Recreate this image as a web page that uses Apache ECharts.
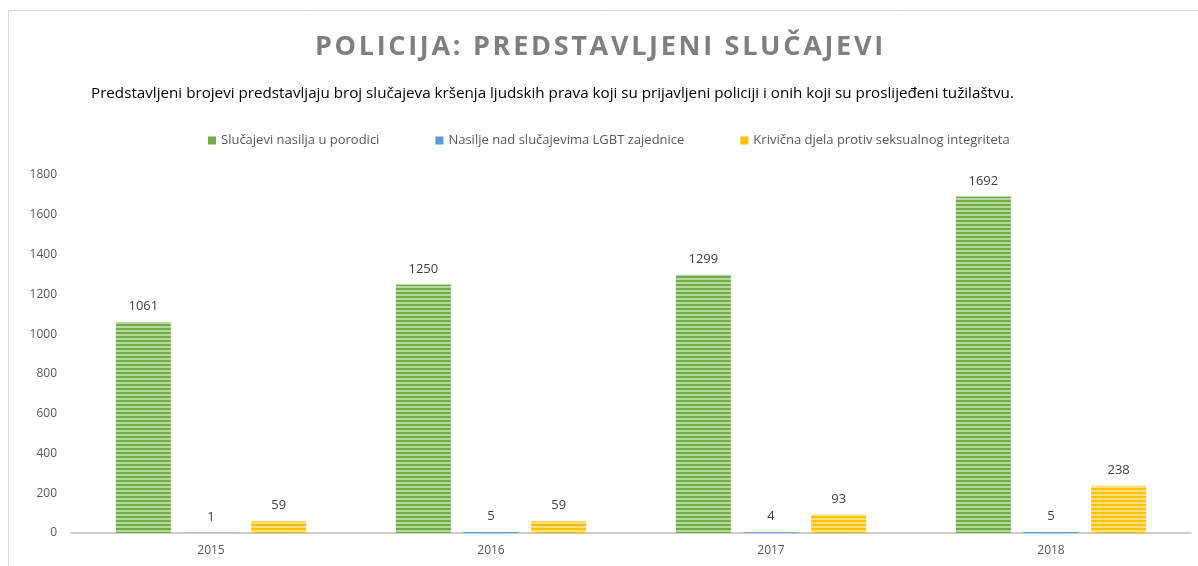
<!DOCTYPE html>
<html>
<head>
<meta charset="utf-8">
<script src="https://cdn.jsdelivr.net/npm/echarts@6/dist/echarts.min.js"></script>
<style>
html, body { margin: 0; padding: 0; background: #fff; }
#chart { width: 1198px; height: 566px; }
</style>
</head>
<body>
<div id="chart"></div>
<script>
var years = ['2015', '2016', '2017', '2018'];
var seriesNames = ['Slučajevi nasilja u porodici', 'Nasilje nad slučajevima LGBT zajednice', 'Krivična djela protiv seksualnog integriteta'];
var nasilje = [1061, 1250, 1299, 1692];
var lgbt = [1, 5, 4, 5];
var krivicna = [59, 59, 93, 238];
var titleText = 'POLICIJA: PREDSTAVLJENI SLUČAJEVI';

// striped fill like the original
function stripes(dark, light) {
	var c = document.createElement('canvas');
	c.width = 4;
	c.height = 4;
	var ctx = c.getContext('2d');
	ctx.fillStyle = light;
	ctx.fillRect(0, 0, 4, 4);
	ctx.fillStyle = dark;
	ctx.fillRect(0, 0, 4, 2);
	return { image: c, repeat: 'repeat' };
}

var chart = echarts.init(document.getElementById('chart'));
var labelStyle = { show: true, position: 'top', distance: 9, color: '#404040', fontSize: 13, fontFamily: 'Open Sans' };

var option = {
	animation: false,
	textStyle: { fontFamily: 'Open Sans' },
	title: [{
		// spaced-out letters
		text: titleText.split('').join('\u200A'),
		left: 'center',
		top: 29,
		textStyle: { fontSize: 27, fontWeight: 'bold', color: '#7f7f7f', fontFamily: 'Open Sans' }
	}, {
		text: 'Predstavljeni brojevi predstavljaju broj slučajeva kršenja ljudskih prava koji su prijavljeni policiji i onih koji su proslijeđeni tužilaštvu.',
		left: 86,
		top: 81,
		textStyle: { fontSize: 15.2, fontWeight: 'normal', color: '#000', fontFamily: 'Open Sans' }
	}],
	legend: {
		data: [
			{ name: seriesNames[0], itemStyle: { color: '#70AD47' } },
			{ name: seriesNames[1], itemStyle: { color: '#5B9BD5' } },
			{ name: seriesNames[2], itemStyle: { color: '#FFC000' } }
		],
		top: 129,
		left: 203,
		itemWidth: 8,
		itemHeight: 8,
		itemGap: 56,
		icon: 'rect',
		textStyle: { color: '#595959', fontSize: 13 }
	},
	graphic: [{
		type: 'rect',
		shape: { x: 8.5, y: 10.5, width: 1200, height: 570 },
		style: { fill: 'none', stroke: '#d9d9d9', lineWidth: 1 },
		silent: true
	}],
	grid: { left: 71, right: 7, top: 175, bottom: 33 },
	xAxis: {
		type: 'category',
		data: years,
		axisTick: { show: false },
		axisLine: { lineStyle: { color: '#bfbfbf', width: 1.5 } },
		axisLabel: { color: '#595959', fontSize: 12, margin: 12 }
	},
	yAxis: {
		type: 'value',
		min: 0,
		max: 1800,
		interval: 200,
		splitLine: { show: false },
		axisLine: { show: false },
		axisTick: { show: false },
		axisLabel: { color: '#595959', fontSize: 12, margin: 14, formatter: function (v) { return String(v); } }
	},
	series: [{
		name: seriesNames[0],
		type: 'bar',
		data: nasilje,
		barWidth: 55,
		barGap: '23%',
		itemStyle: { color: stripes('#70AD47', '#B4D79B') },
		label: labelStyle
	}, {
		name: seriesNames[1],
		type: 'bar',
		data: lgbt,
		barWidth: 55,
		itemStyle: { color: '#5B9BD5' },
		label: labelStyle
	}, {
		name: seriesNames[2],
		type: 'bar',
		data: krivicna,
		barWidth: 55,
		itemStyle: { color: stripes('#FFC000', '#FFE07F') },
		label: labelStyle
	}]
};
chart.setOption(option);
</script>
</body>
</html>
